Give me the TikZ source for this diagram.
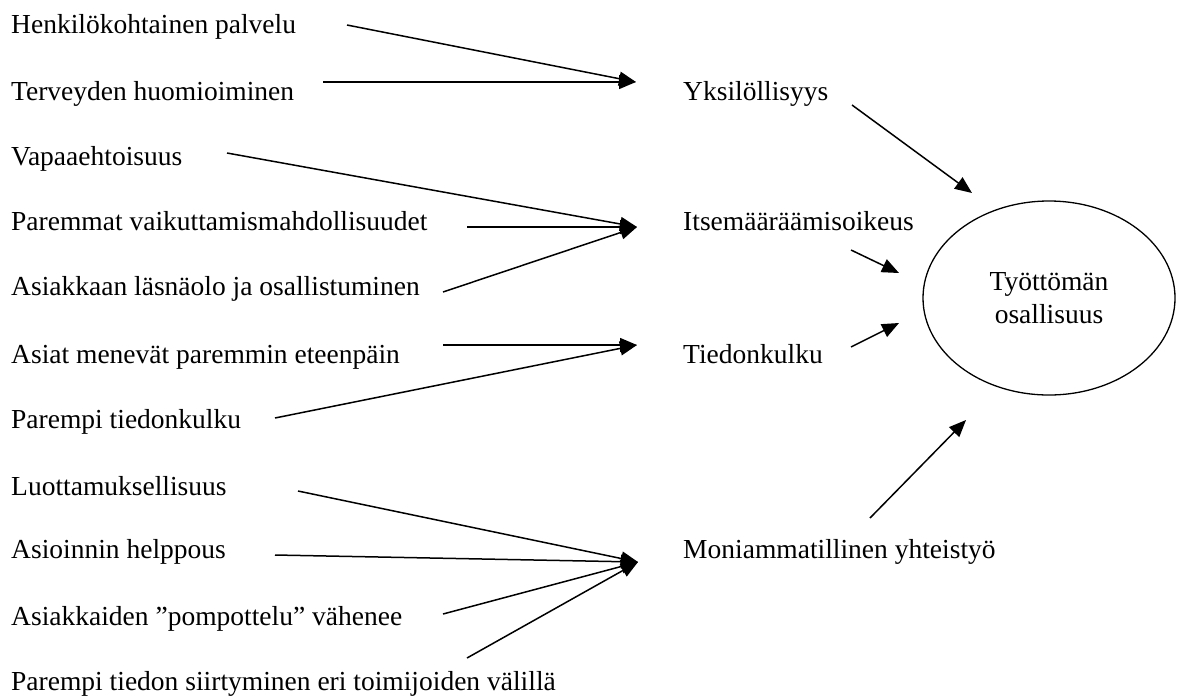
\documentclass[tikz,border=0pt]{standalone}
\usepackage{fontspec}
\setmainfont{Liberation Serif}
\usetikzlibrary{arrows.meta,shapes.geometric}

\begin{document}
\begin{tikzpicture}[x=1pt,y=-1pt,font=\fontsize{27.5}{33}\selectfont,
 lbl/.style={inner sep=0pt,anchor=base west},
 arr/.style={-{Triangle[length=17pt,width=14pt]},line width=1.5pt},
 goal/.style={ellipse,draw,line width=1.3pt,minimum width=252pt,minimum height=194pt,align=center,inner sep=0pt}]
\useasboundingbox (0,0) rectangle (1196,697);
% factors
\node[lbl] (henk) at (11,33) {Henkilökohtainen palvelu};
\node[lbl] (terv) at (11,100) {Terveyden huomioiminen};
\node[lbl] (vapa) at (11,165) {Vapaaehtoisuus};
\node[lbl] (vaik) at (11,230) {Paremmat vaikuttamismahdollisuudet};
\node[lbl] (lasn) at (11,295) {Asiakkaan läsnäolo ja osallistuminen};
\node[lbl] (eteen) at (11,363) {Asiat menevät paremmin eteenpäin};
\node[lbl] (ptied) at (11,428) {Parempi tiedonkulku};
\node[lbl] (luot) at (11,495) {Luottamuksellisuus};
\node[lbl] (help) at (11,558) {Asioinnin helppous};
\node[lbl] (pomp) at (11,625) {Asiakkaiden ”pompottelu” vähenee};
\node[lbl] (siirt) at (11,690) {Parempi tiedon siirtyminen eri toimijoiden välillä};
% themes
\node[lbl] (yksi) at (683,100) {Yksilöllisyys};
\node[lbl] (itse) at (683,230) {Itsemääräämisoikeus};
\node[lbl] (tied) at (683,363) {Tiedonkulku};
\node[lbl] (moni) at (683,558) {Moniammatillinen yhteistyö};
\node[goal] (osal) at (1049,298) {Työttömän\\osallisuus};
% arrow tips
\coordinate (h1) at (636,82);
\coordinate (h2) at (637,227);
\coordinate (h3) at (637,345);
\coordinate (h4) at (638,562);
\coordinate (t1) at (972,193);
\coordinate (t2) at (899,273);
\coordinate (t3) at (899,323);
\coordinate (t4) at (966,420);

\draw[arr] ([shift={(336,-8)}]henk.base west) -- (h1);
\draw[arr] ([shift={(312,-18)}]terv.base west) -- (h1);
\draw[arr] ([shift={(216,-12)}]vapa.base west) -- (h2);
\draw[arr] ([shift={(456,-3)}]vaik.base west) -- (h2);
\draw[arr] ([shift={(432,-3)}]lasn.base west) -- (h2);
\draw[arr] ([shift={(432,-18)}]eteen.base west) -- (h3);
\draw[arr] ([shift={(264,-10)}]ptied.base west) -- (h3);
\draw[arr] ([shift={(287,-4)}]luot.base west) -- (h4);
\draw[arr] ([shift={(264,-3)}]help.base west) -- (h4);
\draw[arr] ([shift={(432,-11)}]pomp.base west) -- (h4);
\draw[arr] ([shift={(456,-32)}]siirt.base west) -- (h4);

\draw[arr] ([shift={(169,5)}]yksi.base west) -- (t1);
\draw[arr] ([shift={(168,20)}]itse.base west) -- (t2);
\draw[arr] ([shift={(168,-16)}]tied.base west) -- (t3);
\draw[arr] ([shift={(187,-40)}]moni.base west) -- (t4);
\end{tikzpicture}
\end{document}
